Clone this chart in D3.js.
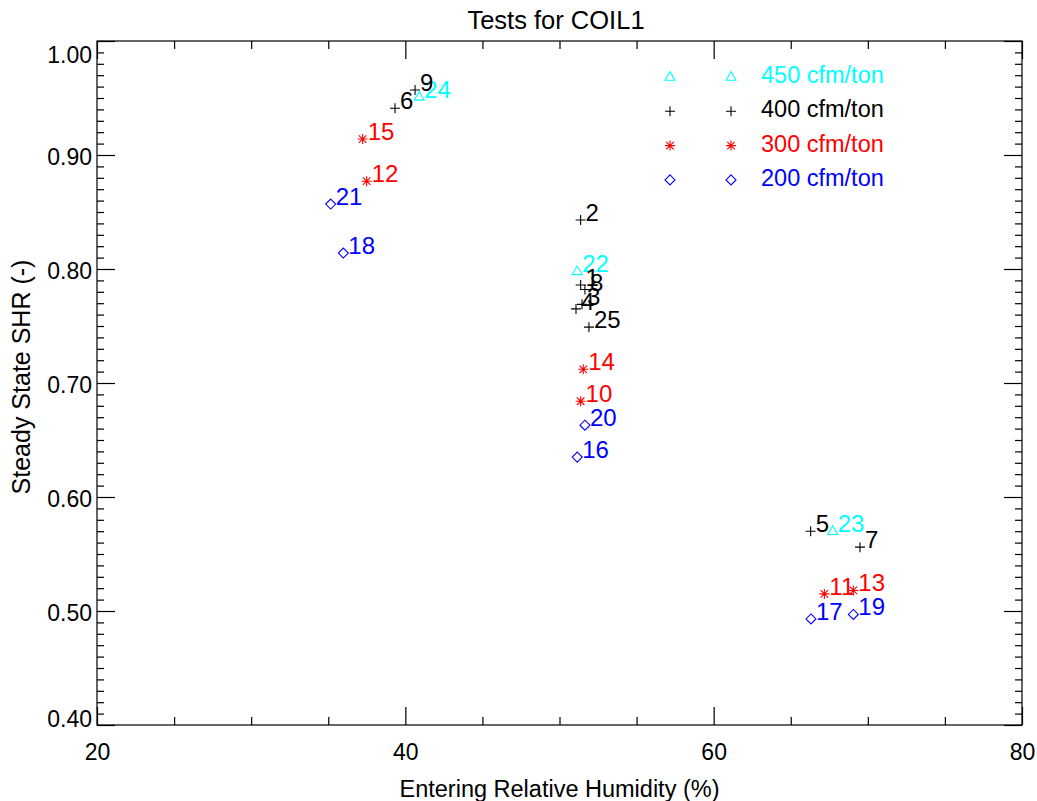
<!DOCTYPE html>
<html>
<head>
<meta charset="utf-8">
<script src="https://cdn.jsdelivr.net/npm/d3@7"></script>
<style>
  html, body { margin: 0; padding: 0; background: #fff; }
  svg { display: block; }
  text { font-family: "Liberation Sans", Arial, Helvetica, sans-serif; }
</style>
</head>
<body>
<div id="chart"></div>
<script>
// air flow groups
const series = ['450 cfm/ton', '400 cfm/ton', '300 cfm/ton', '200 cfm/ton'];
const seriesColors = ['#00ffff', '#000000', '#ff0000', '#0000ff'];
const seriesSymbols = ['triangle', 'plus', 'asterisk', 'diamond'];

// test numbers, entering RH (%) and steady state SHR per group
const tests450 = [24, 22, 23];
const rh450 = [40.9, 51.15, 67.72];
const shr450 = [0.951, 0.798, 0.570];

const tests400 = [1, 2, 3, 4, 5, 6, 7, 8, 9, 25];
const rh400 = [51.37, 51.37, 51.46, 51.07, 66.29, 39.33, 69.49, 51.65, 40.63, 51.91];
const shr400 = [0.786, 0.843, 0.769, 0.765, 0.570, 0.941, 0.556, 0.782, 0.957, 0.749];

const tests300 = [10, 11, 12, 13, 14, 15];
const rh300 = [51.37, 67.18, 37.49, 69.06, 51.54, 37.23];
const shr300 = [0.684, 0.515, 0.877, 0.518, 0.712, 0.914];

const tests200 = [16, 17, 18, 19, 20, 21];
const rh200 = [51.15, 66.31, 35.98, 69.06, 51.65, 35.16];
const shr200 = [0.635, 0.493, 0.814, 0.497, 0.663, 0.857];

const xMajor = [20, 40, 60, 80];
const xMinor = [25, 30, 35, 45, 50, 55, 65, 70, 75];
const yMajor = [0.4, 0.5, 0.6, 0.7, 0.8, 0.9, 1.0];
const yMinor = d3.range(40, 101).map(v => v / 100).filter(v => Math.round(v * 100) % 10 !== 0);

const groups = [
  {tests: tests450, rh: rh450, shr: shr450},
  {tests: tests400, rh: rh400, shr: shr400},
  {tests: tests300, rh: rh300, shr: shr300},
  {tests: tests200, rh: rh200, shr: shr200}
];

const width = 1037, height = 801;
const plot = {left: 97, right: 1022, top: 41, bottom: 725};
const tickPx = 23;
const labelPx = 24;

const x = d3.scaleLinear().domain([20, 80]).range([plot.left, plot.right]);
const y = d3.scaleLinear().domain([0.4, 1.0]).range([plot.bottom, plot.top]);

const svg = d3.select('#chart').append('svg')
  .attr('width', width)
  .attr('height', height);

// outline symbols, like the old IDL psym ones
function symbolPath(type) {
  const r = 5;
  if (type === 'plus') {
    return `M${-r},0H${r}M0,${-r}V${r}`;
  }
  if (type === 'asterisk') {
    const d = r * 0.75;
    return `M${-r},0H${r}M0,${-r}V${r}M${-d},${-d}L${d},${d}M${-d},${d}L${d},${-d}`;
  }
  if (type === 'diamond') {
    return `M0,${-r}L${r},0L0,${r}L${-r},0Z`;
  }
  // triangle
  const t = 5.5;
  return `M0,${-t}L${t * 0.9},${t * 0.6}L${-t * 0.9},${t * 0.6}Z`;
}

// frame
svg.append('rect')
  .attr('x', plot.left)
  .attr('y', plot.top)
  .attr('width', plot.right - plot.left)
  .attr('height', plot.bottom - plot.top)
  .attr('fill', 'none')
  .attr('stroke', '#000')
  .attr('stroke-width', 1.2);

function tickAxis(axis, transform) {
  const g = svg.append('g').attr('transform', transform).call(axis);
  g.select('.domain').remove();
  g.selectAll('.tick line').attr('stroke', '#000').attr('stroke-width', 1.2);
  g.selectAll('.tick text')
    .attr('fill', '#000')
    .style('font-size', tickPx + 'px');
  return g;
}

// ticks point inward on all four sides
tickAxis(d3.axisBottom(x).tickValues(xMinor).tickSize(-8).tickFormat(''), `translate(0,${plot.bottom})`);
tickAxis(d3.axisTop(x).tickValues(xMinor).tickSize(-8).tickFormat(''), `translate(0,${plot.top})`);
tickAxis(d3.axisBottom(x).tickValues(xMajor).tickSize(-18).tickPadding(19).tickFormat(d3.format('d')), `translate(0,${plot.bottom})`);
tickAxis(d3.axisTop(x).tickValues(xMajor).tickSize(-18).tickFormat(''), `translate(0,${plot.top})`);

tickAxis(d3.axisLeft(y).tickValues(yMinor).tickSize(-7).tickFormat(''), `translate(${plot.left},0)`);
tickAxis(d3.axisRight(y).tickValues(yMinor).tickSize(-7).tickFormat(''), `translate(${plot.right},0)`);
const yAxisG = tickAxis(d3.axisLeft(y).tickValues(yMajor).tickSize(-18).tickPadding(5).tickFormat(d3.format('.2f')), `translate(${plot.left},0)`);
tickAxis(d3.axisRight(y).tickValues(yMajor).tickSize(-18).tickFormat(''), `translate(${plot.right},0)`);

// end labels sit inside the frame height
yAxisG.selectAll('.tick text')
  .attr('dy', d => d >= 0.999 ? '0.95em' : (d <= 0.401 ? '0.05em' : '0.4em'));

// titles
svg.append('text')
  .attr('x', 556)
  .attr('y', 29)
  .attr('text-anchor', 'middle')
  .style('font-size', '25.5px')
  .text('Tests for COIL1');

svg.append('text')
  .attr('x', (plot.left + plot.right) / 2)
  .attr('y', 797)
  .attr('text-anchor', 'middle')
  .style('font-size', '23.5px')
  .text('Entering Relative Humidity (%)');

svg.append('text')
  .attr('transform', `translate(30,${(plot.top + plot.bottom) / 2 - 6}) rotate(-90)`)
  .attr('text-anchor', 'middle')
  .style('font-size', '25px')
  .text('Steady State SHR (-)');

// points and their test numbers
groups.forEach((grp, i) => {
  const pts = grp.tests.map((t, j) => ({test: t, rh: grp.rh[j], shr: grp.shr[j]}));
  const g = svg.append('g');

  g.selectAll('path')
    .data(pts)
    .join('path')
    .attr('transform', d => `translate(${x(d.rh)},${y(d.shr)})`)
    .attr('d', symbolPath(seriesSymbols[i]))
    .attr('fill', 'none')
    .attr('stroke', seriesColors[i])
    .attr('stroke-width', 1.1);

  g.selectAll('text')
    .data(pts)
    .join('text')
    .attr('x', d => x(d.rh) + 5)
    .attr('y', d => y(d.shr) + 1)
    .attr('fill', seriesColors[i])
    .style('font-size', labelPx + 'px')
    .text(d => d.test);
});

// legend, two symbols then the label
const legend = svg.append('g').selectAll('g')
  .data(series)
  .join('g')
  .attr('transform', (d, i) => `translate(0,${77 + i * 34.3})`);

legend.append('path')
  .attr('transform', 'translate(670,0)')
  .attr('d', (d, i) => symbolPath(seriesSymbols[i]))
  .attr('fill', 'none')
  .attr('stroke', (d, i) => seriesColors[i])
  .attr('stroke-width', 1.1);

legend.append('path')
  .attr('transform', 'translate(731,0)')
  .attr('d', (d, i) => symbolPath(seriesSymbols[i]))
  .attr('fill', 'none')
  .attr('stroke', (d, i) => seriesColors[i])
  .attr('stroke-width', 1.1);

legend.append('text')
  .attr('x', 761)
  .attr('y', 6)
  .attr('fill', (d, i) => seriesColors[i])
  .style('font-size', '23.5px')
  .text(d => d);
</script>
</body>
</html>
